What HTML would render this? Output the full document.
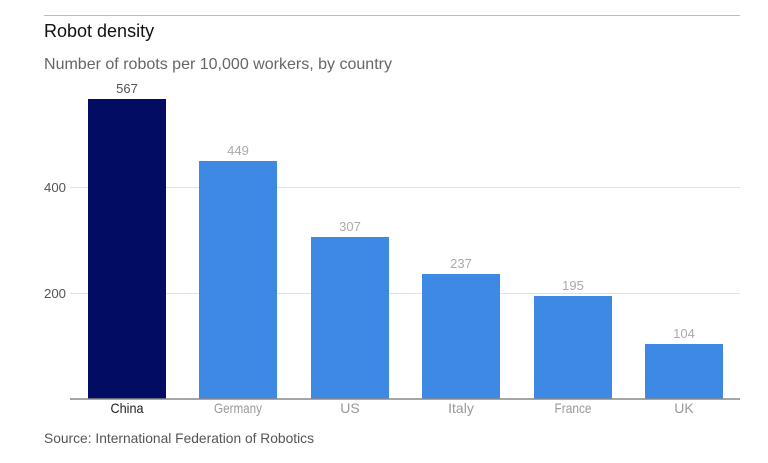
<!DOCTYPE html>
<html><head><meta charset="utf-8"><style>
body{margin:0;background:#fff;width:768px;height:458px;overflow:hidden}
svg text{font-family:"Liberation Sans",sans-serif}
.n{font-size:13px}
</style></head><body>
<svg width="768" height="458" xmlns="http://www.w3.org/2000/svg">
<line x1="44" y1="15.5" x2="740" y2="15.5" stroke="#bbb" stroke-width="1"/>
<text x="44" y="37" font-size="18" fill="#111">Robot density</text>
<text x="44" y="69" font-size="16" fill="#666" textLength="348" lengthAdjust="spacingAndGlyphs">Number of robots per 10,000 workers, by country</text>
<line x1="70" y1="187.5" x2="740" y2="187.5" stroke="#e2e2e2"/>
<line x1="70" y1="293.5" x2="740" y2="293.5" stroke="#e2e2e2"/>
<text class="n" x="66" y="192" text-anchor="end" fill="#555" font-size="14" textLength="22" lengthAdjust="spacingAndGlyphs">400</text>
<text class="n" x="66" y="298" text-anchor="end" fill="#555" font-size="14" textLength="22" lengthAdjust="spacingAndGlyphs">200</text>
<rect x="88" y="99" width="78" height="300" fill="#020c63"/>
<rect x="199" y="161" width="78" height="238" fill="#3e89e3"/>
<rect x="311" y="237" width="78" height="162" fill="#3e89e3"/>
<rect x="422" y="274" width="78" height="125" fill="#3e89e3"/>
<rect x="534" y="296" width="78" height="103" fill="#3e89e3"/>
<rect x="645" y="344" width="78" height="55" fill="#3e89e3"/>
<line x1="70" y1="399" x2="740" y2="399" stroke="#888" stroke-width="1.5"/>
<g class="n" text-anchor="middle">
<text x="127" y="93" fill="#555">567</text>
<text x="238" y="155" fill="#aaa">449</text>
<text x="350" y="231" fill="#aaa">307</text>
<text x="461" y="268" fill="#aaa">237</text>
<text x="573" y="290" fill="#aaa">195</text>
<text x="684" y="338" fill="#aaa">104</text>
<text x="127" y="413" fill="#222" font-size="14" textLength="33" lengthAdjust="spacingAndGlyphs">China</text>
<text x="238" y="413" fill="#999" font-size="14" textLength="48" lengthAdjust="spacingAndGlyphs">Germany</text>
<text x="350" y="413" fill="#999" font-size="14">US</text>
<text x="461" y="413" fill="#999" font-size="14">Italy</text>
<text x="573" y="413" fill="#999" font-size="14" textLength="37" lengthAdjust="spacingAndGlyphs">France</text>
<text x="684" y="413" fill="#999" font-size="14">UK</text>
</g>
<text x="44" y="443" font-size="13.8" fill="#555">Source: International Federation of Robotics</text>
</svg>
</body></html>
